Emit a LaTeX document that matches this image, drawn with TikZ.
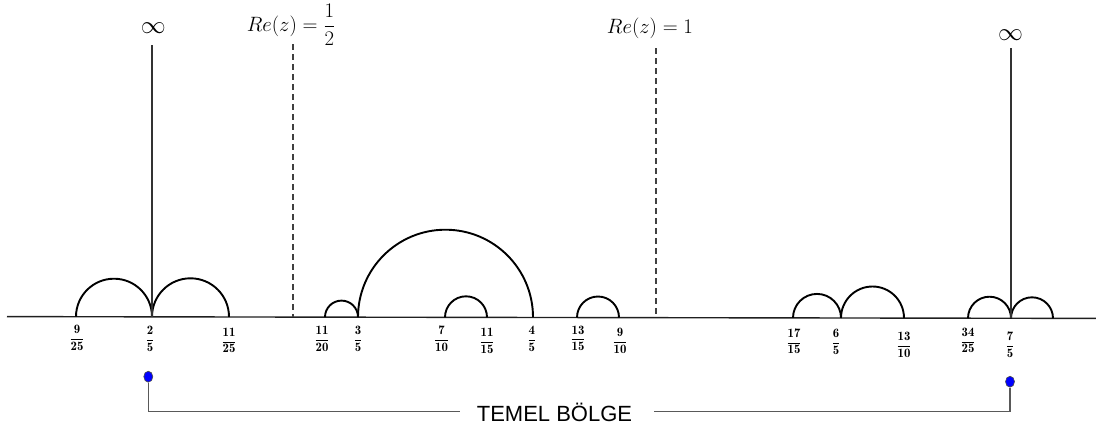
\documentclass[tikz,border=0pt]{standalone}
\usepackage{fontspec}
\newfontfamily\labelsans{Liberation Sans}
\usetikzlibrary{calc,shapes.geometric}
\tikzset{
  axisline/.style={draw=black!88, line width=1.4pt},
  arcline/.style={draw=black, line width=1.9pt},
  infline/.style={draw=black!80, line width=1.2pt},
  reline/.style={draw=black!75, line width=1.2pt, dash pattern=on 6pt off 4pt},
  bracketline/.style={draw=black!65, line width=1.5pt},
  fraclab/.style={font=\fontsize{12.8}{15}\selectfont, anchor=base, inner sep=0pt},
  biglab/.style={font=\fontsize{19.5}{22}\selectfont, inner sep=0pt},
  inflab/.style={font=\fontsize{23}{26}\selectfont, inner sep=0pt},
  bluedot/.style={draw=black!70, fill=blue, line width=0.6pt, ellipse, minimum width=9pt, minimum height=11pt, inner sep=0pt},
}
\begin{document}
\begin{tikzpicture}[x=1pt,y=1pt]
\useasboundingbox (0,0) rectangle (1096,-432);
% axis points
\coordinate (L) at (7,-316.6);
\coordinate (R) at (1096,-318.4);
\coordinate (p925) at (76,-316.7);
\coordinate (p25) at (152,-316.8);
\coordinate (p1125) at (229,-317.0);
\coordinate (p1120) at (325,-317.1);
\coordinate (p35) at (358,-317.2);
\coordinate (p710) at (445,-317.3);
\coordinate (p1115) at (487,-317.4);
\coordinate (p45) at (533,-317.5);
\coordinate (p1315) at (577,-317.5);
\coordinate (p910) at (619,-317.6);
\coordinate (p1715) at (793,-317.9);
\coordinate (p65) at (841,-318.0);
\coordinate (p1310) at (904,-318.1);
\coordinate (p3425) at (968,-318.2);
\coordinate (p75) at (1011,-318.3);
\coordinate (pR) at (1053,-318.3);
% axis
\draw[axisline] (L) -- (R);
% arcs
\draw[arcline] (p925) arc[start angle=180, end angle=0, radius=38];
\draw[arcline] (p25) arc[start angle=180, end angle=0, radius=38.5];
\draw[arcline] (p1120) arc[start angle=180, end angle=0, radius=16.5];
\draw[arcline] (p35) arc[start angle=180, end angle=0, radius=87.5];
\draw[arcline] (p710) arc[start angle=180, end angle=0, radius=21];
\draw[arcline] (p1315) arc[start angle=180, end angle=0, radius=21];
\draw[arcline] (p1715) arc[start angle=180, end angle=0, radius=24];
\draw[arcline] (p65) arc[start angle=180, end angle=0, radius=31.5];
\draw[arcline] (p3425) arc[start angle=180, end angle=0, radius=21.5];
\draw[arcline] (p75) arc[start angle=180, end angle=0, radius=21];
% infinity lines
\node[inflab] (inf1) at (153.3,-28) {$\infty$};
\coordinate (t1) at (152,-45);
\draw[infline] (t1) -- (p25);
\node[inflab] (inf2) at (1010.5,-35) {$\infty$};
\coordinate (t2) at (1011,-48);
\draw[infline] (t2) -- (p75);
% Re lines
\node[biglab] (re1) at (291,-24.5) {$Re(z)=\displaystyle\frac{1}{2}$};
\coordinate (h1) at (293,-44);
\coordinate (b1) at (293,-317);
\draw[reline] (h1) -- (b1);
\node[biglab] (re2) at (650,-28) {$Re(z)=1$};
\coordinate (h2) at (656,-48);
\coordinate (b2) at (656,-317.6);
\draw[reline] (h2) -- (b2);
% fraction labels (bar y + 3 = baseline)
\node[fraclab] (f925) at (77,-342) {$\displaystyle\mathbf{\frac{9}{25}}$};
\node[fraclab] (f25) at (150,-343) {$\displaystyle\mathbf{\frac{2}{5}}$};
\node[fraclab] (f1125) at (229,-344.7) {$\displaystyle\mathbf{\frac{11}{25}}$};
\node[fraclab] (f1120) at (322,-343) {$\displaystyle\mathbf{\frac{11}{20}}$};
\node[fraclab] (f35) at (358,-343) {$\displaystyle\mathbf{\frac{3}{5}}$};
\node[fraclab] (f710) at (441.5,-343) {$\displaystyle\mathbf{\frac{7}{10}}$};
\node[fraclab] (f1115) at (487,-345) {$\displaystyle\mathbf{\frac{11}{15}}$};
\node[fraclab] (f45) at (531.7,-343) {$\displaystyle\mathbf{\frac{4}{5}}$};
\node[fraclab] (f1315) at (578,-342.5) {$\displaystyle\mathbf{\frac{13}{15}}$};
\node[fraclab] (f910) at (620,-345) {$\displaystyle\mathbf{\frac{9}{10}}$};
\node[fraclab] (f1715) at (794,-345.7) {$\displaystyle\mathbf{\frac{17}{15}}$};
\node[fraclab] (f65) at (836,-346) {$\displaystyle\mathbf{\frac{6}{5}}$};
\node[fraclab] (f1310) at (904,-349) {$\displaystyle\mathbf{\frac{13}{10}}$};
\node[fraclab] (f3425) at (968,-344.7) {$\displaystyle\mathbf{\frac{34}{25}}$};
\node[fraclab] (f75) at (1010,-349) {$\displaystyle\mathbf{\frac{7}{5}}$};
% fundamental region bracket
\node[font=\labelsans\fontsize{22}{24}\selectfont, anchor=base, inner sep=0pt] (tb) at (554.5,-421.7) {TEMEL BÖLGE};
\coordinate (c1) at (148.3,-411.7);
\coordinate (c2) at (460,-411.7);
\coordinate (c3) at (654,-411.7);
\coordinate (c4) at (1010,-411.7);
\node[bluedot] (d1) at (148.3,-376.7) {};
\node[bluedot] (d2) at (1010,-381.7) {};
\draw[bracketline] (d1.south) -- (c1) -- (c2);
\draw[bracketline] (c3) -- (c4) -- (d2.south);
\end{tikzpicture}
\end{document}
